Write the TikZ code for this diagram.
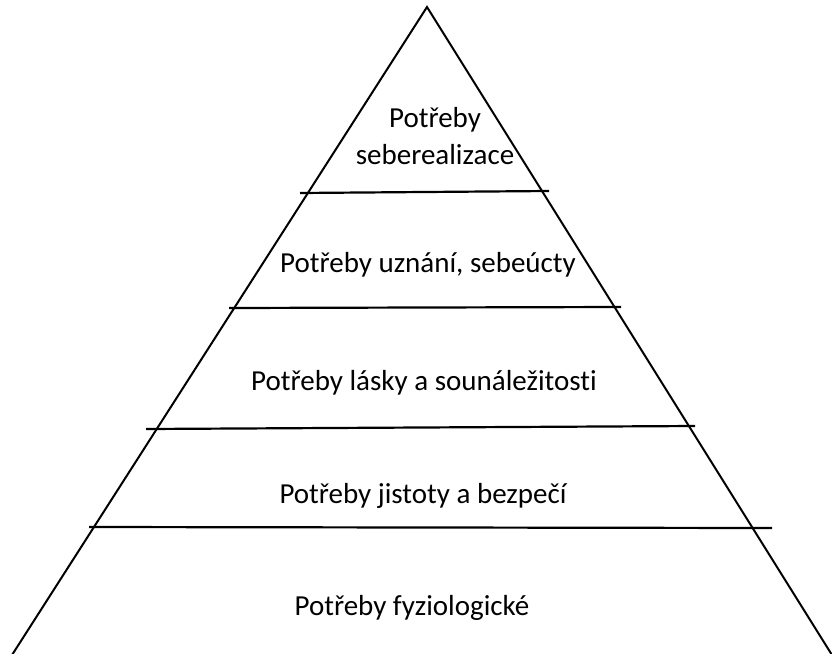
\documentclass[tikz,border=0pt]{standalone}
\usepackage{fontspec}
\setmainfont{Carlito}[Ligatures=NoCommon]
\begin{document}
\begin{tikzpicture}[x=1pt,y=-1pt,
  edge/.style={line width=2pt,black},
  level/.style={line width=2.2pt,black},
  lbl/.style={font=\fontsize{29}{37}\selectfont,align=center,inner sep=0pt}]
\useasboundingbox (0,0) rectangle (832,653);
\coordinate (apex) at (427,7);
\coordinate (bl) at (12,655);
\coordinate (br) at (832,655);
\draw[edge,line join=miter] (bl) -- (apex) -- (br);
\coordinate (a1) at (300,193); \coordinate (b1) at (549,191);
\coordinate (a2) at (229,308); \coordinate (b2) at (621,307);
\coordinate (a3) at (146,429); \coordinate (b3) at (695,426);
\coordinate (a4) at (89,527);  \coordinate (b4) at (772,528);
\draw[level] (a1) -- (b1);
\draw[level] (a2) -- (b2);
\draw[level] (a3) -- (b3);
\draw[level] (a4) -- (b4);
\node[lbl] (t1) at (435,136) {Potřeby\\seberealizace};
\node[lbl] (t2) at (428,265) {Potřeby uznání, sebeúcty};
\node[lbl] (t3) at (424,383) {Potřeby lásky a sounáležitosti};
\node[lbl] (t4) at (423,496) {Potřeby jistoty a bezpečí};
\node[lbl] (t5) at (412,608) {Potřeby fyziologické};
\end{tikzpicture}
\end{document}
